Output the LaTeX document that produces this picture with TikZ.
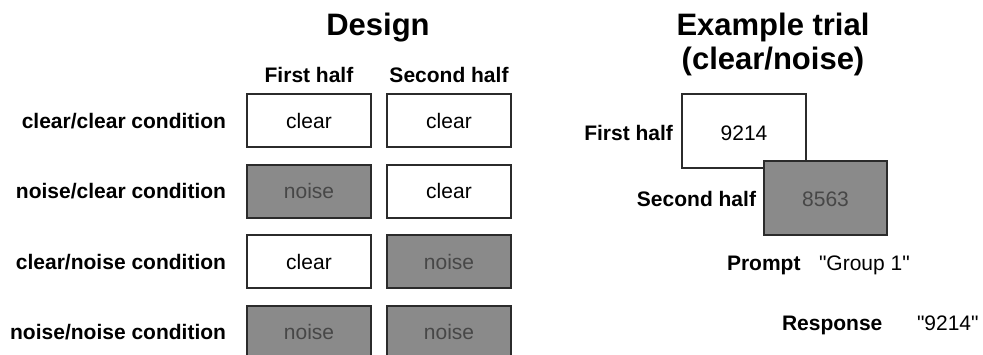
\documentclass[tikz,border=0pt]{standalone}
\usepackage{fontspec}
\setmainfont{Liberation Sans}[Ligatures=TeXOff]
\definecolor{noisefill}{HTML}{8A8A8A}
\definecolor{noisetext}{HTML}{474747}
\definecolor{edge}{HTML}{2B2B2B}
\begin{document}
\begin{tikzpicture}[x=1pt,y=-1pt,
  every node/.style={inner sep=0pt, outer sep=0pt},
  txt/.style={font=\fontsize{21}{25}\selectfont},
  bold/.style={font=\fontsize{21}{25}\selectfont\bfseries},
  title/.style={font=\fontsize{31}{36}\selectfont\bfseries, anchor=base},
  clearbox/.style={draw=edge, line width=2pt, fill=white, minimum width=124pt, minimum height=53pt},
  noisebox/.style={clearbox, fill=noisefill},
  trialbox/.style={draw=edge, line width=2pt, minimum width=124pt, minimum height=74pt},
  clr/.style={txt, anchor=base},
  nse/.style={txt, anchor=base, text=noisetext}
]
\useasboundingbox (0,0) rectangle (983,354);
\fill[white] (0,0) rectangle (983,354);
% titles
\node[title] (design) at (378,35) {Design};
\node[title] (ex1) at (773,35) {Example trial};
\node[title] (ex2) at (773,69) {(clear/noise)};
% column headers
\node[bold, anchor=base] (h1) at (309,82) {First half};
\node[bold, anchor=base] (h2) at (449,82) {Second half};
% row labels
\node[bold, anchor=base east] (r1) at (226,128) {clear/clear condition};
\node[bold, anchor=base east] (r2) at (226,198.5) {noise/clear condition};
\node[bold, anchor=base east] (r3) at (226,269) {clear/noise condition};
\node[bold, anchor=base east] (r4) at (226,339.5) {noise/noise condition};
% boxes
\node[clearbox] (b11) at (309,120.5) {};
\node[clearbox] (b12) at (449,120.5) {};
\node[noisebox] (b21) at (309,191) {};
\node[clearbox] (b22) at (449,191) {};
\node[clearbox] (b31) at (309,261.5) {};
\node[noisebox] (b32) at (449,261.5) {};
\node[noisebox] (b41) at (309,332) {};
\node[noisebox] (b42) at (449,332) {};
\node[clr] (t11) at (309,128) {clear};
\node[clr] (t12) at (449,128) {clear};
\node[nse] (t21) at (309,198.5) {noise};
\node[clr] (t22) at (449,198.5) {clear};
\node[clr] (t31) at (309,269) {clear};
\node[nse] (t32) at (449,269) {noise};
\node[nse] (t41) at (309,339.5) {noise};
\node[nse] (t42) at (449,339.5) {noise};
% example trial
\node[trialbox, fill=white] (fb) at (744,131) {};
\node[trialbox, fill=noisefill, minimum width=123pt] (sb) at (825.5,198) {};
\node[clr] (fnum) at (744,140.5) {9214};
\node[nse] (snum) at (825.5,206.5) {8563};
\node[bold, anchor=base east] (fl) at (673,140.5) {First half};
\node[bold, anchor=base east] (sl) at (756,206.5) {Second half};
\node[bold, anchor=base west] (pl) at (727,270.5) {Prompt};
\node[txt, anchor=base west] (pv) at (819,270.5) {"Group 1"};
\node[bold, anchor=base west] (rl) at (782,330.5) {Response};
\node[txt, anchor=base west] (rv) at (917,330.5) {"9214"};
\end{tikzpicture}
\end{document}
